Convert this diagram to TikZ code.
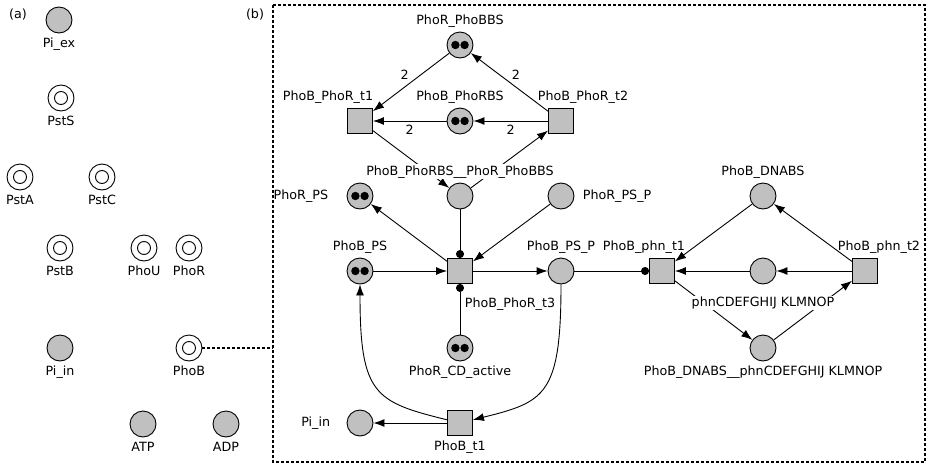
\documentclass[tikz,border=0pt]{standalone}
\usepackage{fontspec}
\setmainfont{DejaVu Sans}
\usetikzlibrary{arrows.meta,backgrounds}
\definecolor{pgray}{RGB}{192,192,192}

\begin{document}
\begin{tikzpicture}[x=1pt,y=-1pt,line width=0.9pt,
  font=\fontsize{12.7}{14}\selectfont,
  place/.style={circle,draw,fill=pgray,minimum size=26pt,inner sep=0pt},
  seed/.style={circle,draw,minimum size=26pt,inner sep=0pt,
    path picture={\draw (path picture bounding box.center) circle (6.5pt);}},
  tok/.style={place,path picture={
    \fill[black] ([xshift=-4.6pt]path picture bounding box.center) circle (4.2pt);
    \fill[black] ([xshift=4.6pt]path picture bounding box.center) circle (4.2pt);}},
  trans/.style={rectangle,draw,fill=pgray,minimum size=25pt,inner sep=0pt},
  arc/.style={line width=0.9pt,-{Latex[length=11pt,width=8pt]}},
  readarc/.style={line width=0.9pt,-{Circle[length=8pt]}},
  wt/.style={inner sep=2pt},
  cover/.style={fill=white},
  every label/.style={inner sep=1pt},
  label distance=3pt,
  box/.style={dash pattern=on 3pt off 2pt,line width=1.1pt}]
\useasboundingbox (0,0) rectangle (929,466);

% (a) the species
\node (tagA) at (18,15) {(a)};
\node[place,label=below:Pi\_ex] (piex) at (59,20) {};
\node[seed,label=below:PstS] (psts) at (61,98) {};
\node[seed,label=below:PstA] (psta) at (20,177) {};
\node[seed,label=below:PstC] (pstc) at (102,177) {};
\node[seed,label=below:PstB] (pstb) at (60,248) {};
\node[seed,label=below:PhoU] (phou) at (144,248) {};
\node[seed,label=below:PhoR] (phor) at (189,248) {};
\node[place,label=below:Pi\_in] (piin) at (60,348) {};
\node[seed,label=below:PhoB] (phob) at (189,348) {};
\node[place,label=below:ATP] (atp) at (143,424) {};
\node[place,label=below:ADP] (adp) at (226,424) {};

% (b) the PhoB net
\node (tagB) at (255,15) {(b)};
\draw[box] (273,5) rectangle (925,462);
\coordinate (bleft) at (273,348);
\draw[box] (phob) -- (bleft);

\node[tok,label=above:PhoR\_PhoBBS] (rbbs) at (460,45) {};
\node[tok,label=above:PhoB\_PhoRBS] (brbs) at (460,121) {};
\node[trans,label={[xshift=-32pt]above:PhoB\_PhoR\_t1}] (bt1) at (360,121) {};
\node[trans,label={[xshift=22pt]above:PhoB\_PhoR\_t2}] (bt2) at (561,121) {};
\node[place,label={[cover]above:PhoB\_PhoRBS\_\_PhoR\_PhoBBS}] (cplx) at (460,196) {};
\node[tok,label={[xshift=-14pt]left:PhoR\_PS}] (rps) at (360,196) {};
\node[place,label={[xshift=4pt]right:PhoR\_PS\_P}] (rpsp) at (561,196) {};
\node[tok,label=above:PhoB\_PS] (bps) at (360,271) {};
\node[trans,label={[xshift=50pt,yshift=-9pt]below:PhoB\_PhoR\_t3}] (bt3) at (460,271) {};
\node[place,label=above:PhoB\_PS\_P] (bpsp) at (561,271) {};
\node[tok,label=below:PhoR\_CD\_active] (cdact) at (460,348) {};
\node[trans,label=below:PhoB\_t1] (pbt1) at (460,423) {};
\node[place,label={[xshift=-12pt]left:Pi\_in}] (piin2) at (360,423) {};
\node[trans,label={[xshift=-18pt]above:PhoB\_phn\_t1}] (pht1) at (662,271) {};
\node[trans,label={[xshift=14pt]above:PhoB\_phn\_t2}] (pht2) at (865,271) {};
\node[place,label=above:PhoB\_DNABS] (dnabs) at (763,196) {};
\node[place,label={[cover,yshift=-8pt]below:phnCDEFGHIJ KLMNOP}] (phn) at (763,271) {};
\node[place,label=below:PhoB\_DNABS\_\_phnCDEFGHIJ KLMNOP] (dnaphn) at (763,348) {};

\begin{scope}[on background layer]
\draw[arc] (rbbs) -- node[wt,above left]{2} (bt1);
\draw[arc] (bt2) -- node[wt,above right]{2} (rbbs);
\draw[arc] (brbs) -- node[wt,below=2pt]{2} (bt1);
\draw[arc] (bt2) -- node[wt,below=2pt]{2} (brbs);
\draw[arc] (bt1) -- (cplx);
\draw[arc] (cplx) -- (bt2);
\draw[readarc] (cplx) -- (bt3);
\draw[arc] (bt3) -- (rps);
\draw[arc] (rpsp) -- (bt3);
\draw[arc] (bps) -- (bt3);
\draw[arc] (bt3) -- (bpsp);
\draw[readarc] (cdact) -- (bt3);
\draw[readarc] (bpsp) -- (pht1);
\draw[arc] (dnabs) -- (pht1);
\draw[arc] (phn) -- (pht1);
\draw[arc] (pht2) -- (phn);
\draw[arc] (pht1) -- (dnaphn);
\draw[arc] (dnaphn) -- (pht2);
\draw[arc] (pht2) -- (dnabs);
\draw[arc] (bpsp) .. controls (561,395) and (545,402) .. (pbt1);
\draw[arc] (pbt1) .. controls (375,402) and (360,395) .. (bps);
\draw[arc] (pbt1) -- (piin2);
\end{scope}
\end{tikzpicture}
\end{document}
